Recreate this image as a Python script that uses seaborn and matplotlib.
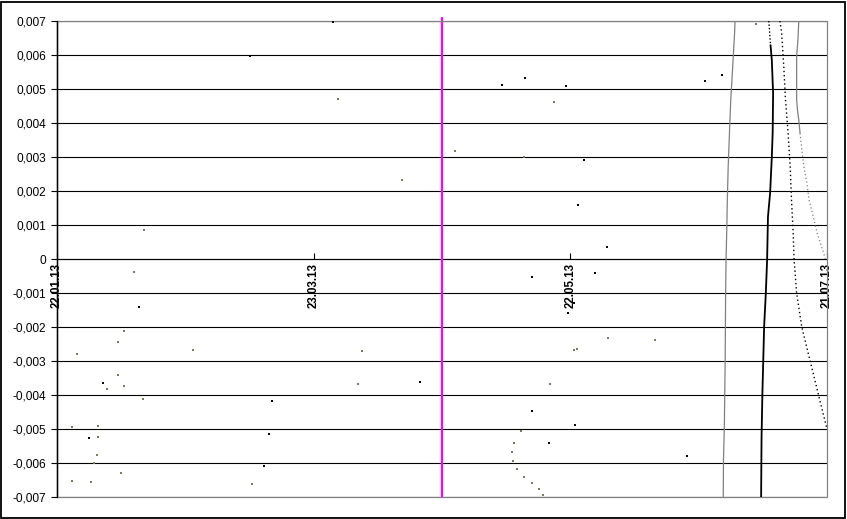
import numpy as np
import pandas as pd
import matplotlib
matplotlib.use('Agg')
import matplotlib.pyplot as plt
from matplotlib.patches import Rectangle
import seaborn as sns

# ---------------- data ----------------
START = pd.Timestamp('2013-01-22')
END = pd.Timestamp('2013-07-21')

xtick_dates = ['2013-01-22', '2013-03-23', '2013-05-22', '2013-07-21']
xtick_labels = ['22.01.13', '23.03.13', '22.05.13', '21.07.13']
ytick_values = [-0.007, -0.006, -0.005, -0.004, -0.003, -0.002, -0.001, 0.0,
                0.001, 0.002, 0.003, 0.004, 0.005, 0.006, 0.007]
ytick_labels = ['-0,007', '-0,006', '-0,005', '-0,004', '-0,003', '-0,002', '-0,001', '0',
                '0,001', '0,002', '0,003', '0,004', '0,005', '0,006', '0,007']

marker_date = '2013-04-22'

# scattered points (days after 22.01.13, value)
black_days = [45.1, 19.2, 10.75, 7.5, 50.3, 49.6, 48.4, 64.5, 104.0, 109.4, 119.0, 123.2,
              121.8, 111.0, 125.8, 120.9, 119.5, 84.9, 111.0, 121.1, 115.0, 155.4, 151.5,
              128.6, 147.3]
black_vals = [0.00597, -0.00141, -0.00365, -0.00526, -0.00418, -0.00515, -0.00609, 0.00697,
              0.00512, 0.00532, 0.00509, 0.00291, 0.00159, -0.00053, -0.00041, -0.00129,
              -0.00159, -0.00362, -0.00447, -0.00488, -0.00541, 0.00541, 0.00524, 0.00035,
              -0.00579]

gray_days = [20.3, 18.0, 15.7, 14.3, 4.7, 31.8, 11.7, 14.3, 15.7, 20.1, 3.5, 9.6, 9.6, 9.35,
             8.65, 3.5, 7.9, 15.0, 45.6, 65.7, 80.6, 93.0, 116.2, 109.2, 71.3, 120.9, 121.6,
             70.4, 115.2, 108.5, 106.8, 106.4, 106.6, 107.5, 109.2, 111.0, 112.7, 113.6,
             163.4, 128.8, 139.8]
gray_vals = [0.00085, -0.00038, -0.00212, -0.00244, -0.00279, -0.00268, -0.00382, -0.00341,
             -0.00374, -0.00412, -0.00494, -0.00491, -0.00524, -0.00576, -0.0060, -0.00653,
             -0.00656, -0.00629, -0.00662, 0.00471, 0.00232, 0.00318, 0.00462, 0.0030,
             -0.00271, -0.00268, -0.00265, -0.00368, -0.00368, -0.00506, -0.00541, -0.00568,
             -0.00594, -0.00618, -0.00641, -0.00659, -0.00676, -0.00694, 0.00691, -0.00232,
             -0.00238]

# curves (days after 22.01.13, value)
gray_left_days = [158.5, 158.4, 157.95, 157.5, 157.2, 156.9, 156.7, 156.55, 156.4, 156.3,
                  156.2, 156.1, 156.0, 155.8, 155.75]
gray_left_vals = [0.007, 0.00665, 0.00565, 0.00468, 0.00371, 0.00271, 0.00174, 0.00076,
                  -0.00003, -0.001, -0.00297, -0.00394, -0.00494, -0.00591, -0.007]

black_curve_days = [166.4, 166.8, 167.1, 167.4, 167.3, 167.1, 166.7, 166.2, 166.0, 165.7,
                    165.3, 165.1, 164.9, 164.7, 164.6]
black_curve_vals = [0.007, 0.00629, 0.00585, 0.00488, 0.00371, 0.0030, 0.00194, 0.00124,
                    -0.00003, -0.001, -0.002, -0.00297, -0.00394, -0.00524, -0.007]

black_dotted_days = [169.0, 169.4, 169.9, 170.3, 170.9, 171.4, 171.7, 172.1, 172.3, 172.9,
                     174.1, 176.0, 177.9, 180.0]
black_dotted_vals = [0.007, 0.00665, 0.00565, 0.00468, 0.00371, 0.00271, 0.00174, 0.00076,
                     0.0, -0.001, -0.002, -0.00297, -0.00394, -0.005]

gray_right_days = [173.4, 173.2, 172.9, 172.9, 173.1, 173.4, 173.7, 174.2, 174.6, 175.3,
                   175.8, 176.8, 177.7, 179.0, 179.6]
gray_right_vals = [0.00698, 0.00644, 0.00595, 0.00468, 0.00438, 0.00409, 0.0037, 0.00311,
                   0.00271, 0.00223, 0.00174, 0.00124, 0.00076, 0.00026, 0.00001]


def to_dates(days):
    return START + pd.to_timedelta(np.asarray(days, dtype=float), unit='D')


# ---------------- plot ----------------
sns.set_theme(style='white')
plt.rcParams['font.family'] = ['Liberation Sans', 'DejaVu Sans']

W, H = 847, 519
fig = plt.figure(figsize=(W / 100, H / 100), dpi=100)
fig.patch.set_facecolor('white')
ax = fig.add_axes([57 / W, 1 - 497 / H, 770 / W, 476 / H])
ax.set_facecolor('white')

GRAY_LINE = '#808080'
GRAY_DOT = '#7a7a62'

# scatter points
pts_b = pd.DataFrame({'date': to_dates(black_days), 'value': black_vals})
pts_g = pd.DataFrame({'date': to_dates(gray_days), 'value': gray_vals})
sns.scatterplot(data=pts_g, x='date', y='value', ax=ax, color=GRAY_DOT, marker='s',
                s=2.0, linewidth=0, zorder=4)
sns.scatterplot(data=pts_b, x='date', y='value', ax=ax, color='black', marker='s',
                s=2.0, linewidth=0, zorder=4)

# curves
def curve(days, vals, **kw):
    df = pd.DataFrame({'date': to_dates(days), 'value': vals})
    sns.lineplot(data=df, x='date', y='value', ax=ax, sort=False, estimator=None, **kw)

curve(gray_left_days, gray_left_vals, color=GRAY_LINE, linewidth=0.9, zorder=4)

bc_d = np.array(black_curve_days); bc_v = np.array(black_curve_vals)
top = bc_v >= 0.00629
curve(bc_d[top], bc_v[top], color='black', linewidth=1.0, linestyle=(0, (1, 1.5)), zorder=4)
curve(bc_d[bc_v <= 0.00629], bc_v[bc_v <= 0.00629], color='black', linewidth=1.3, zorder=4)

curve(black_dotted_days, black_dotted_vals, color='black', linewidth=1.0,
      linestyle=(0, (1, 2)), zorder=4)

gr_d = np.array(gray_right_days); gr_v = np.array(gray_right_vals)
curve(gr_d[gr_v >= 0.0037], gr_v[gr_v >= 0.0037], color=GRAY_LINE, linewidth=0.9, zorder=4)
curve(gr_d[gr_v <= 0.0037], gr_v[gr_v <= 0.0037], color=GRAY_LINE, linewidth=0.9,
      linestyle=(0, (1, 2)), zorder=4)

# magenta marker line
ax.axvline(pd.Timestamp(marker_date), ymin=0, ymax=1.007, color='#FF00FF', linewidth=1.6,
           zorder=3, clip_on=False)

# axes limits and ticks
ax.set_xlim(START, END)
ax.set_ylim(ytick_values[0], ytick_values[-1])
ax.set_yticks(ytick_values)
ax.set_yticklabels(ytick_labels)
ax.set_xticks(pd.to_datetime(xtick_dates))
ax.set_xticklabels(xtick_labels)
ax.set_xlabel('')
ax.set_ylabel('')

ax.grid(axis='y', color='black', linewidth=0.8)
ax.grid(axis='x', visible=False)
ax.set_axisbelow(True)

for s in ['top', 'right']:
    ax.spines[s].set_visible(False)
ax.spines['left'].set_color('black')
ax.spines['left'].set_linewidth(0.9)
ax.spines['bottom'].set_position(('data', 0))
ax.spines['bottom'].set_color('black')
ax.spines['bottom'].set_linewidth(0.8)

ax.tick_params(axis='y', which='major', direction='out', length=4, width=0.8, color='black',
               labelsize=8.6, labelcolor='black', pad=3.5, left=True)
ax.tick_params(axis='x', which='major', direction='in', length=4, width=0.8, color='black',
               labelcolor='black', labelsize=8.3, pad=3.0, bottom=True, labelrotation=90)
for lab in ax.get_xticklabels():
    lab.set_fontweight('bold')
    lab.set_rotation(90)
    lab.set_verticalalignment('top')
    lab.set_horizontalalignment('center')

# gray plot-area frame (top, right, bottom)
ax.add_patch(Rectangle((0, 0), 1, 1, transform=ax.transAxes, fill=False,
                       edgecolor=GRAY_LINE, linewidth=0.9, zorder=3.5, clip_on=False))
ax.plot([0, 0], [0, 1], transform=ax.transAxes, color='black', linewidth=0.9,
        zorder=3.6, clip_on=False)

# figure border
fig.add_artist(Rectangle((0.8 / W, 0.8 / H), 1 - 2.6 / W, 1 - 2.6 / H,
                         transform=fig.transFigure, fill=False, edgecolor='black',
                         linewidth=1.3))

fig.savefig('out.png', dpi=100, facecolor='white')
